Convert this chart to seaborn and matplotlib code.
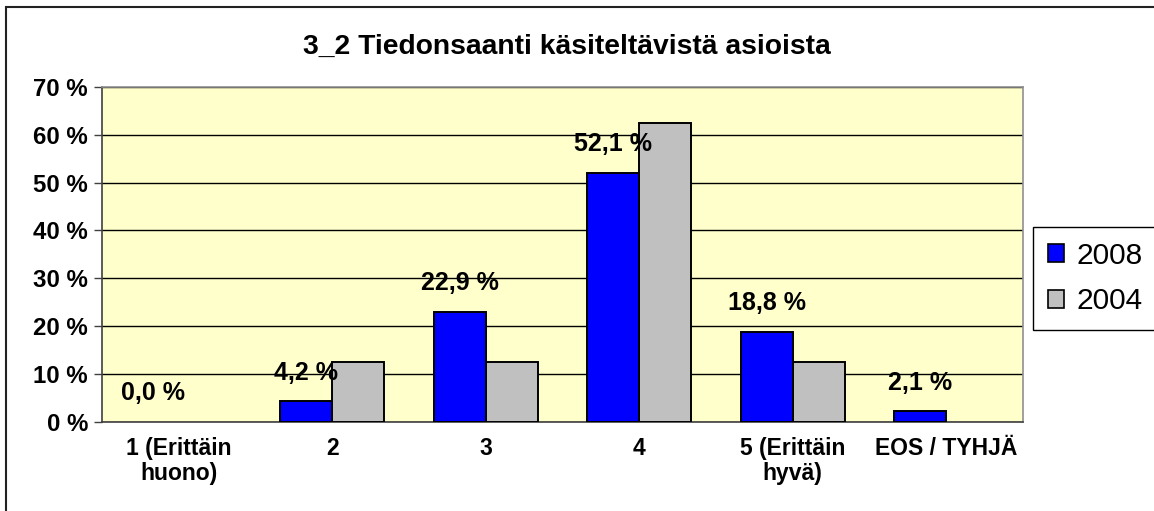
import seaborn as sns
import pandas as pd
import matplotlib
matplotlib.use("Agg")
import matplotlib.pyplot as plt
from matplotlib.patches import Patch, Rectangle

categories = ["1 (Erittäin\nhuono)", "2", "3", "4", "5 (Erittäin\nhyvä)", "EOS / TYHJÄ"]
v2008 = [0.0, 4.2, 22.9, 52.1, 18.8, 2.1]
v2004 = [0.0, 12.5, 12.5, 62.5, 12.5, 0.0]
years = ["2008", "2004"]
colors = ["#0000FF", "#C0C0C0"]

df = pd.DataFrame({
    "cat": categories * 2,
    "val": v2008 + v2004,
    "year": ["2008"] * len(categories) + ["2004"] * len(categories),
})

sns.set_style("white")
plt.rcParams["font.family"] = ["Liberation Sans", "DejaVu Sans"]
plt.rcParams["text.color"] = "black"
plt.rcParams["xtick.color"] = "black"
plt.rcParams["ytick.color"] = "black"

W, H = 1154, 511
fig = plt.figure(figsize=(W / 100, H / 100), dpi=100)
ax = fig.add_axes([102 / W, 1 - 421.5 / H, 921 / W, 334.5 / H])

# outer chart border
fig.patches.append(Rectangle((6 / W, -0.1), 1.2, 1 - 7 / H + 0.1, transform=fig.transFigure,
                             fill=False, edgecolor="#222222", linewidth=1.5))

sns.barplot(data=df, x="cat", y="val", hue="year", hue_order=years, palette=colors,
            order=categories, width=0.675, gap=0, saturation=1, edgecolor="black",
            linewidth=1.4, ax=ax, legend=False, zorder=3)

for p in ax.patches:
    if p.get_height() == 0:
        p.set_linewidth(0)

ax.set_facecolor("#FFFFCC")
ax.set_ylim(0, 70)
ax.set_xlim(-0.5, len(categories) - 0.5)
ax.set_yticks(range(0, 71, 10))
ax.set_yticklabels([f"{t} %" for t in range(0, 71, 10)], fontsize=17.3, fontweight="bold")
ax.set_xticks(range(len(categories)))
ax.set_xticklabels(categories, fontsize=16.5, fontweight="bold", linespacing=1.15)
ax.set_xticks([i - 0.5 for i in range(len(categories) + 1)], minor=True)
ax.tick_params(axis="x", which="major", length=0, pad=11)
ax.tick_params(axis="x", which="minor", length=7, width=1, color="#404040", direction="out")
ax.tick_params(axis="y", length=6, width=1, color="#404040", direction="out", pad=4, left=True)
ax.set_xlabel("")
ax.set_ylabel("")
ax.yaxis.grid(True, color="black", linewidth=1)
ax.set_axisbelow(True)
for side in ["left", "bottom"]:
    ax.spines[side].set_color("#404040")
    ax.spines[side].set_linewidth(1.2)
for side in ["top", "right"]:
    ax.spines[side].set_color("#909090")
    ax.spines[side].set_linewidth(1.2)

ax.bar_label(ax.containers[0], labels=[f"{v:.1f} %".replace(".", ",") for v in v2008],
             padding=12, fontsize=18, fontweight="bold")

fig.text(567 / W, 1 - 47 / H, "3_2 Tiedonsaanti käsiteltävistä asioista", ha="center",
         va="center", fontsize=20.3, fontweight="bold")

handles = [Patch(facecolor=c, edgecolor="black", linewidth=1.2) for c in colors]
leg = fig.legend(handles, years, loc="upper left", bbox_to_anchor=(1033 / W, 1 - 227 / H),
                 fontsize=21.5, frameon=True, fancybox=False, edgecolor="black", framealpha=1,
                 handlelength=0.55, handleheight=0.55, handletextpad=0.4, borderpad=0.5,
                 labelspacing=0.58, borderaxespad=0)
leg.get_frame().set_linewidth(1)

fig.savefig("out.png", dpi=100)
